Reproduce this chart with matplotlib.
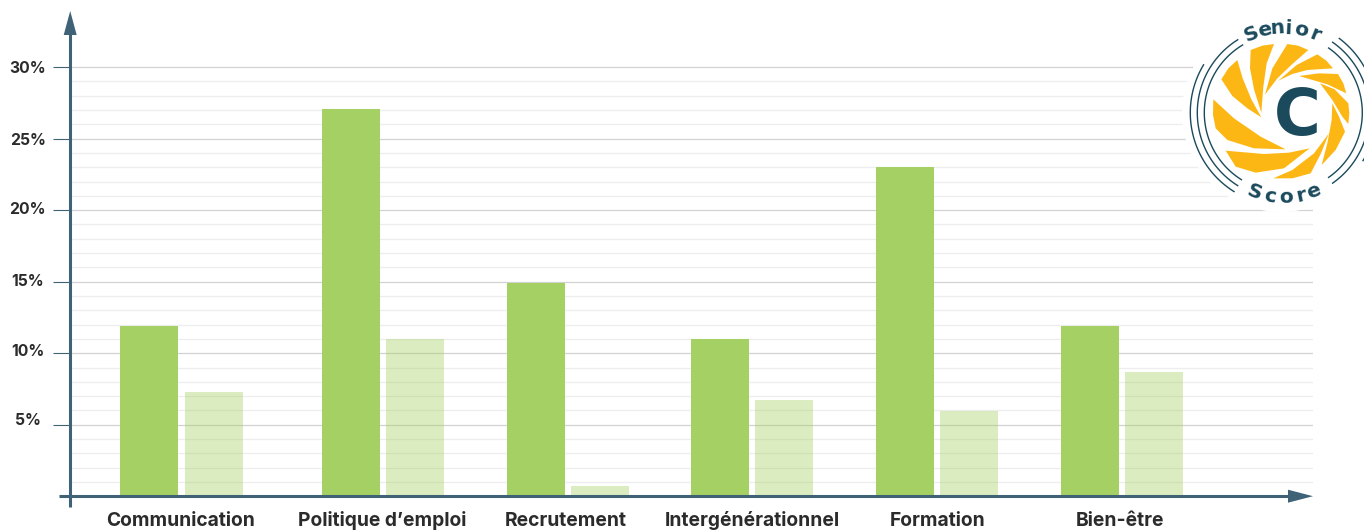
import numpy as np
import matplotlib
matplotlib.use("Agg")
import matplotlib.pyplot as plt
from matplotlib.patches import Polygon, Circle
from matplotlib.transforms import ScaledTranslation

categories = ["Communication", "Politique d’emploi", "Recrutement",
              "Intergénérationnel", "Formation", "Bien-être"]
series_dark = [11.9, 27.1, 14.9, 11.0, 23.05, 11.9]
series_light = [7.3, 11.0, 0.7, 6.75, 5.95, 8.7]
major_ticks = [5, 10, 15, 20, 25, 30]
major_labels = ["5%", "10%", "15%", "20%", "25%", "30%"]
minor_ticks = [v for v in range(1, 30) if v % 5]

W, H = 1364, 530
FONT = ["Inter", "Liberation Sans", "DejaVu Sans"]
plt.rcParams["font.family"] = FONT
AXIS = "#3F6276"
GREEN = "#A5D064"
TEXT = "#2B2B2B"
LOGO_BLUE = "#1A4A5C"
YELLOW = "#FDB714"

dark_x = [149, 351, 536, 720, 905, 1090]
light_x = [214, 415, 600, 784, 969, 1154]
label_centers = [181, 382, 566, 752, 938, 1120]
bar_w = 58
left, right, bottom, top = 70.5, 1313, 496.2, 11
unit = 14.3

fig = plt.figure(figsize=(W / 100, H / 100), dpi=100, facecolor="white")
ax = fig.add_axes([left / W, 1 - bottom / H, (right - left) / W, (bottom - top) / H])
ax.set_xlim(left, right)
ax.set_ylim(0, (bottom - top) / unit)
for s in ax.spines.values():
    s.set_visible(False)

ax.bar(dark_x, series_dark, bar_w, color=GREEN, zorder=3)
ax.bar(light_x, series_light, bar_w, color=GREEN, alpha=0.4, zorder=3)

ax.set_axisbelow(True)
ax.set_yticks(major_ticks)
ax.set_yticklabels(major_labels, fontsize=11.3, fontweight="bold", color=TEXT, ha="center")
ax.set_yticks(minor_ticks, minor=True)
ax.tick_params(axis="y", which="major", length=13.2, width=0.8, color=AXIS, pad=17.5)
ax.tick_params(axis="y", which="minor", length=0)
ax.grid(axis="y", which="major", color="#D2D2D2", lw=0.9)
ax.grid(axis="y", which="minor", color="#EDEDED", lw=0.9)
ax.set_xticks(label_centers)
ax.set_xticklabels(categories, fontsize=13.85, fontweight="bold", color=TEXT, va="baseline")
ax.tick_params(axis="x", length=0, pad=21.3)

label_shift_px = {"5%": 6, "10%": 3, "15%": 2, "20%": 2, "25%": 0, "30%": 0}
for t in ax.get_yticklabels():
    t.set_transform(t.get_transform() + ScaledTranslation(0, label_shift_px[t.get_text()] / 100, fig.dpi_scale_trans))

# overlay in pixel coordinates for the axis arrows and logo
ov = fig.add_axes([0, 0, 1, 1], zorder=5)
ov.set_xlim(0, W)
ov.set_ylim(H, 0)
ov.axis("off")
ov.patch.set_alpha(0)

ax_x = 70.2
ov.plot([ax_x, ax_x], [507, 34], color=AXIS, lw=2.2, solid_capstyle="butt")
ov.plot([59, 1290], [bottom, bottom], color=AXIS, lw=2.2, solid_capstyle="butt")
ov.add_patch(Polygon([(ax_x, 11), (ax_x - 6.5, 35), (ax_x + 6.5, 35)], color=AXIS, lw=0))
ov.add_patch(Polygon([(1313, bottom), (1288, bottom - 6.5), (1288, bottom + 6.5)], color=AXIS, lw=0))

# logo
cx, cy = 1283.3, 112.7
ov.add_patch(Circle((1281, 113), 99, color="white", lw=0))


def z(points):
    return [(1164 + a / 3, b / 3) for a, b in points]


blades = [
    [(220, 180), (193, 205), (172, 238), (205, 288), (250, 325), (292, 352), (262, 298), (236, 235)],
    [(260, 150), (295, 137), (330, 132), (308, 190), (298, 260), (292, 338), (270, 268), (258, 205)],
    [(370, 132), (402, 137), (433, 150), (385, 192), (340, 235), (303, 284), (325, 205)],
    [(460, 163), (487, 182), (507, 205), (430, 210), (385, 222), (343, 242), (398, 195)],
    [(522, 222), (538, 250), (547, 280), (490, 253), (405, 228), (465, 220)],
    [(468, 250), (512, 268), (553, 310), (556, 340), (553, 372), (535, 350), (505, 300)],
    [(505, 310), (525, 350), (543, 395), (515, 450), (473, 495), (490, 430), (503, 360)],
    [(495, 400), (470, 462), (440, 520), (385, 535), (328, 535), (385, 510), (450, 460)],
    [(437, 445), (360, 505), (275, 518), (215, 500), (185, 452), (300, 462), (375, 458)],
    [(148, 298), (147, 345), (155, 385), (190, 420), (270, 445), (365, 448), (290, 410), (210, 355)],
]
for b in blades:
    ov.add_patch(Polygon(z(b), closed=True, color=YELLOW, lw=0))

rings = [(93, 149, 238), (86, 122, 238), (79, 121, 238),
         (93, -31, 53), (86, -55, 55), (79, -55, 55)]
for r, a0, a1 in rings:
    th = np.radians(np.linspace(a0, a1, 120))
    ov.plot(cx + r * np.cos(th), cy - r * np.sin(th), color=LOGO_BLUE, lw=1.0)

ov.text(1297, 116.5, "C", fontsize=46, fontweight="bold", color=LOGO_BLUE, ha="center", va="center",
        family=["DejaVu Sans"])


def arc_text(letters, angles, radius, sign):
    for ch, a in zip(letters, angles):
        t = np.radians(a)
        ov.text(cx + radius * np.cos(t), cy - radius * np.sin(t), ch, fontsize=14.5, fontweight="bold",
                color=LOGO_BLUE, ha="center", va="center", rotation=a - 90 * sign, rotation_mode="anchor",
                family=["DejaVu Sans"])


arc_text("Senior", [112, 102.5, 94, 87, 78, 68], 84.5, 1)
arc_text("Score", [249.6, 261, 271.6, 282, 291], 84.5, -1)

fig.savefig("out.png", dpi=100)
